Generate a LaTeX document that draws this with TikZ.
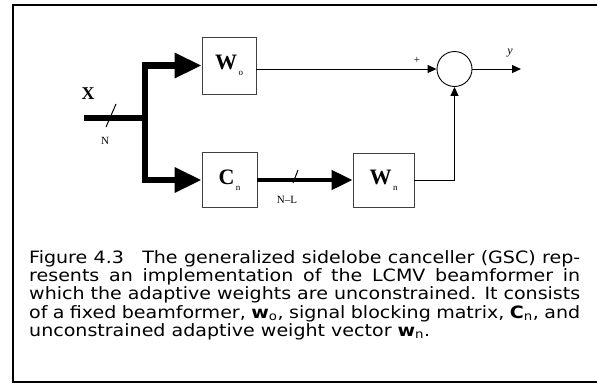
\documentclass[tikz,border=0pt]{standalone}
\usepackage{fontspec}
\setmainfont[FakeStretch=1.12]{DejaVu Sans}
\newfontfamily\tms[Ligatures=TeX]{Liberation Serif}
\usetikzlibrary{arrows.meta}
\begin{document}
\begin{tikzpicture}[x=1pt,y=-1pt,
  blk/.style={draw=black!75,line width=0.9pt,inner sep=0pt,font=\tms\fontsize{22}{22}\selectfont\bfseries},
  bus/.style={line width=6.5pt,-{Triangle[length=27pt,width=24pt]}},
  bus2/.style={line width=4.5pt,-{Triangle[length=21pt,width=19pt]}},
  sig/.style={line width=0.9pt,-{Triangle[length=9pt,width=8pt]}},
  lbl/.style={font=\tms\fontsize{11}{11}\selectfont,inner sep=0pt},
  tick/.style={line width=1pt},
  frm/.style={line width=2.2pt}]
\useasboundingbox (0,0) rectangle (597,384);
\newcommand\subsc[1]{\raisebox{-6pt}{\mdseries\fontsize{9}{9}\selectfont\,#1}}
% frame
\draw[frm] (597,5) -- (13,5) -- (13,382) -- (597,382);
% blocks
\node[blk,minimum width=54pt,minimum height=57pt] (W0) at (229,65.5) {W\subsc{o}};
\node[blk,minimum width=55pt,minimum height=55pt] (Cn) at (229.5,180) {C\subsc{n}};
\node[blk,minimum width=61pt,minimum height=54pt] (Wn) at (383.5,180) {W\subsc{n}};
\node[circle,draw,line width=0.9pt,minimum size=35pt,inner sep=0pt] (S) at (454.5,69) {};
% input
\node[font=\tms\fontsize{18}{18}\selectfont\bfseries,inner sep=0pt] (X) at (88,94) {X};
\coordinate (in) at (84,118);
\coordinate (j) at (145,118);
\draw[line width=6.5pt] (in) -- (j);
\draw[bus] (j) |- (W0.west);
\draw[bus] (j) |- (Cn.west);
\draw[tick] (116,104) -- (106,127);
\node[lbl] (N) at (105,141) {N};
% blocking to adaptive
\draw[bus2] (Cn.east) -- (Wn.west);
\draw[tick] (298,170) -- (293,183);
\node[lbl] (NL) at (287,200) {N--L};
% sum
\draw[sig] (W0.east |- S.west) -- (S.west);
\node[lbl] (plus) at (417,60) {+};
\coordinate (out) at (521,69);
\draw[sig] (S.east) -- (out);
\node[lbl,font=\tms\itshape\fontsize{12}{12}\selectfont] (y) at (510,53) {y};
\draw[sig] (Wn.east) -| (S.south);
% caption
\node[anchor=north west,inner sep=0pt,text width=551pt,align=justify,font=\fontsize{17}{18.3}\selectfont] (cap) at (29,250) {Figure 4.3\hspace{12pt} The generalized sidelobe canceller (GSC) rep-\linebreak resents an implementation of the LCMV beamformer in\linebreak which the adaptive weights are unconstrained. It consists\linebreak of a fixed beamformer, \textbf{w}\textsubscript{o}, signal blocking matrix, \textbf{C}\textsubscript{n}, and\linebreak unconstrained adaptive weight vector \textbf{w}\textsubscript{n}.};
\end{tikzpicture}
\end{document}
